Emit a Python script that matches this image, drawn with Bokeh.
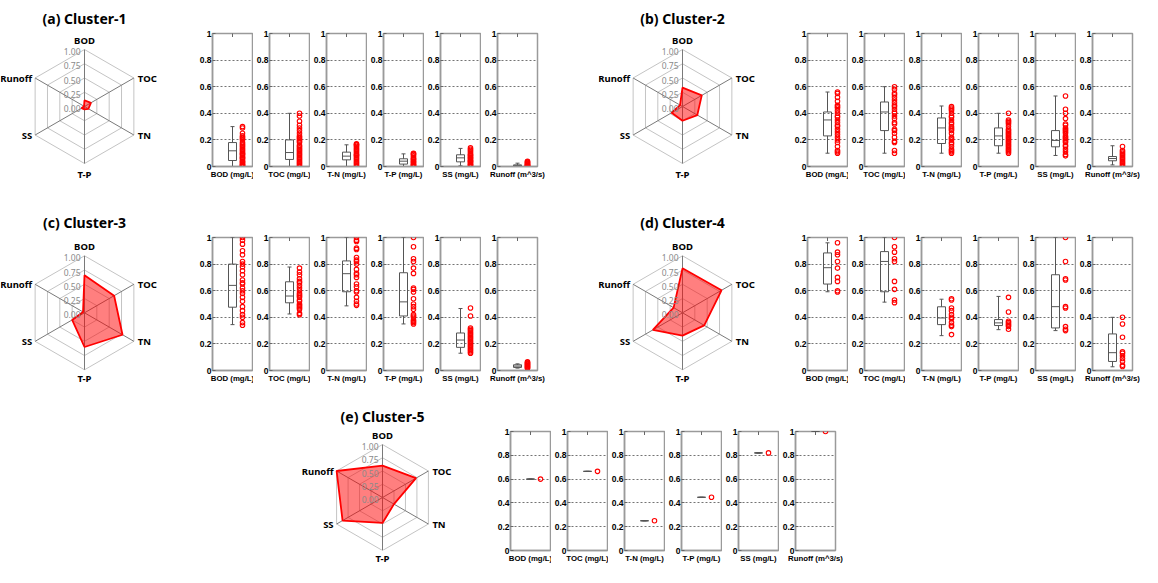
import math
from bokeh.plotting import figure
from bokeh.layouts import row, column
from bokeh.models import Spacer, Range1d, DataRange1d, FixedTicker, NumeralTickFormatter, Label, Title
from bokeh.embed import file_html
from bokeh.resources import INLINE

# ---------------- data ----------------
AXES = ["BOD", "TOC", "TN", "T-P", "SS", "Runoff"]
XLABELS = ["BOD (mg/L)", "TOC (mg/L)", "T-N (mg/L)", "T-P (mg/L)", "SS (mg/L)", "Runoff (m^3/s)"]
TITLES = ["(a) Cluster-1", "(b) Cluster-2", "(c) Cluster-3", "(d) Cluster-4", "(e) Cluster-5"]
RING_LEVELS = [0.25, 0.5, 0.75, 1.0]
RING_TICKS = [0.0, 0.25, 0.5, 0.75, 1.0]
RING_LABELS = ["0.00", "0.25", "0.50", "0.75", "1.00"]
YTICKS = [0, 0.2, 0.4, 0.6, 0.8, 1]
YGRID = [0.2, 0.4, 0.6, 0.8]

# radar (normalised) values: BOD, TOC, TN, T-P, SS, Runoff
c1_radar = [0.11, 0.13, 0.08, 0.05, 0.06, 0.01]
c2_radar = [0.33, 0.39, 0.30, 0.25, 0.22, 0.05]
c3_radar = [0.66, 0.60, 0.77, 0.60, 0.25, 0.03]
c4_radar = [0.78, 0.79, 0.44, 0.40, 0.60, 0.18]
c5_radar = [0.60, 0.73, 0.25, 0.48, 0.87, 1.00]

# box statistics per variable (BOD, TOC, T-N, T-P, SS, Runoff)
c1_min = [0.0, 0.0, 0.0, 0.0, 0.005, 0.0]
c1_q1 = [0.045, 0.053, 0.05, 0.018, 0.035, 0.004]
c1_med = [0.118, 0.105, 0.078, 0.04, 0.065, 0.008]
c1_q3 = [0.18, 0.20, 0.108, 0.058, 0.088, 0.012]
c1_max = [0.30, 0.40, 0.163, 0.095, 0.136, 0.025]

c2_min = [0.10, 0.10, 0.10, 0.10, 0.083, 0.012]
c2_q1 = [0.23, 0.27, 0.173, 0.156, 0.148, 0.043]
c2_med = [0.35, 0.41, 0.29, 0.23, 0.196, 0.06]
c2_q3 = [0.41, 0.485, 0.365, 0.29, 0.27, 0.075]
c2_max = [0.56, 0.60, 0.455, 0.40, 0.53, 0.156]

c3_min = [0.345, 0.425, 0.486, 0.35, 0.13, 0.018]
c3_q1 = [0.476, 0.509, 0.592, 0.41, 0.174, 0.023]
c3_med = [0.64, 0.56, 0.728, 0.516, 0.229, 0.033]
c3_q3 = [0.80, 0.667, 0.824, 0.735, 0.282, 0.043]
c3_max = [1.0, 0.778, 1.0, 1.0, 0.466, 0.05]

c4_min = [0.592, 0.514, 0.262, 0.307, 0.30, 0.028]
c4_q1 = [0.65, 0.592, 0.345, 0.338, 0.32, 0.068]
c4_med = [0.773, 0.82, 0.395, 0.358, 0.48, 0.134]
c4_q3 = [0.884, 0.894, 0.479, 0.383, 0.72, 0.275]
c4_max = [0.96, 1.0, 0.536, 0.557, 1.0, 0.40]

c5_val = [0.60, 0.665, 0.25, 0.447, 0.82, 1.0]

# data points (red circles)
c1_bod = [0.30, 0.29, 0.25, 0.23, 0.22, 0.21, 0.20, 0.18, 0.17, 0.16, 0.15, 0.14, 0.13, 0.12, 0.11, 0.10,
          0.095, 0.09, 0.08, 0.07, 0.065, 0.06, 0.05, 0.04, 0.035, 0.03, 0.02, 0.015, 0.01, 0.005, 0.0]
c1_toc = [0.40, 0.38, 0.34, 0.31, 0.29, 0.27, 0.25, 0.23, 0.22, 0.21, 0.20, 0.19, 0.18, 0.16, 0.15, 0.14,
          0.13, 0.12, 0.11, 0.10, 0.09, 0.08, 0.07, 0.06, 0.05, 0.04, 0.03, 0.02, 0.01, 0.0]
c1_tn = [0.17, 0.165, 0.16, 0.15, 0.14, 0.13, 0.12, 0.11, 0.10, 0.09, 0.085, 0.08, 0.07, 0.06, 0.05, 0.04,
         0.03, 0.02, 0.01, 0.0]
c1_tp = [0.10, 0.095, 0.09, 0.08, 0.07, 0.06, 0.055, 0.05, 0.04, 0.035, 0.03, 0.02, 0.015, 0.01, 0.005, 0.0]
c1_ss = [0.14, 0.13, 0.12, 0.11, 0.10, 0.09, 0.085, 0.08, 0.07, 0.065, 0.06, 0.05, 0.045, 0.04, 0.035, 0.03,
         0.02, 0.015, 0.01, 0.005]
c1_ro = [0.04, 0.035, 0.03, 0.025, 0.02, 0.015, 0.01, 0.008, 0.005, 0.003, 0.0]

c2_bod = [0.56, 0.55, 0.52, 0.49, 0.46, 0.45, 0.44, 0.42, 0.40, 0.38, 0.37, 0.35, 0.33, 0.31, 0.30, 0.28,
          0.26, 0.24, 0.22, 0.20, 0.18, 0.15, 0.12, 0.11, 0.10]
c2_toc = [0.60, 0.58, 0.55, 0.54, 0.52, 0.50, 0.48, 0.46, 0.45, 0.43, 0.41, 0.40, 0.38, 0.36, 0.33, 0.32,
          0.28, 0.27, 0.25, 0.22, 0.19, 0.18, 0.12, 0.10]
c2_tn = [0.45, 0.44, 0.43, 0.42, 0.40, 0.38, 0.37, 0.35, 0.33, 0.32, 0.30, 0.29, 0.28, 0.27, 0.25, 0.22,
         0.21, 0.20, 0.18, 0.17, 0.15, 0.13, 0.12, 0.11, 0.10]
c2_tp = [0.40, 0.35, 0.34, 0.33, 0.32, 0.30, 0.28, 0.27, 0.26, 0.25, 0.24, 0.23, 0.22, 0.21, 0.20, 0.19,
         0.18, 0.17, 0.16, 0.15, 0.14, 0.13, 0.12, 0.11, 0.10]
c2_ss = [0.53, 0.43, 0.40, 0.36, 0.32, 0.31, 0.29, 0.28, 0.27, 0.26, 0.25, 0.23, 0.22, 0.21, 0.20, 0.19,
         0.18, 0.16, 0.15, 0.13, 0.11, 0.09, 0.08]
c2_ro = [0.15, 0.12, 0.11, 0.10, 0.09, 0.08, 0.07, 0.06, 0.05, 0.04, 0.03, 0.02, 0.01, 0.0]

c3_bod = [1.0, 0.98, 0.95, 0.90, 0.87, 0.82, 0.80, 0.78, 0.75, 0.72, 0.68, 0.66, 0.65, 0.62, 0.60, 0.58,
          0.55, 0.52, 0.48, 0.45, 0.42, 0.40, 0.36, 0.34]
c3_toc = [0.77, 0.74, 0.72, 0.69, 0.67, 0.66, 0.64, 0.62, 0.60, 0.58, 0.57, 0.56, 0.55, 0.53, 0.52, 0.50,
          0.49, 0.48, 0.47, 0.46, 0.43, 0.42]
c3_tn = [1.0, 0.98, 0.97, 0.92, 0.91, 0.85, 0.83, 0.82, 0.80, 0.76, 0.73, 0.72, 0.70, 0.65, 0.63, 0.60,
         0.59, 0.55, 0.52, 0.50, 0.49]
c3_tp = [1.0, 0.93, 0.84, 0.82, 0.77, 0.73, 0.62, 0.61, 0.59, 0.54, 0.50, 0.48, 0.46, 0.42, 0.41, 0.40,
         0.38, 0.37, 0.36, 0.35]
c3_ss = [0.47, 0.41, 0.32, 0.31, 0.30, 0.29, 0.28, 0.27, 0.26, 0.25, 0.24, 0.23, 0.22, 0.21, 0.20, 0.19,
         0.18, 0.17, 0.16, 0.15, 0.14, 0.13]
c3_ro = [0.065, 0.06, 0.055, 0.05, 0.045, 0.04, 0.035, 0.03, 0.025, 0.02, 0.015]

c4_bod = [0.96, 0.89, 0.87, 0.82, 0.77, 0.70, 0.67, 0.60, 0.59]
c4_toc = [1.0, 0.93, 0.89, 0.84, 0.82, 0.67, 0.61, 0.53, 0.51]
c4_tn = [0.54, 0.53, 0.47, 0.45, 0.42, 0.40, 0.39, 0.36, 0.34, 0.33, 0.27]
c4_tp = [0.55, 0.44, 0.37, 0.36, 0.35, 0.34, 0.33, 0.31]
c4_ss = [1.0, 0.82, 0.69, 0.68, 0.48, 0.47, 0.33, 0.31, 0.30]
c4_ro = [0.40, 0.35, 0.25, 0.14, 0.13, 0.11, 0.09, 0.07, 0.04, 0.03]

# ---------------- styling / helpers ----------------
RED = "#ff0000"
ANG = [math.radians(90 - 60 * i) for i in range(6)]
S = 57.0      # px per radar unit
RW = 168      # radar figure width
TXT = "Noto Sans"
AX_FONT = "Liberation Sans"
FRAME = "#9a9a9a"
BOX_X = 1.0
PTS_X = 1.5
MB = 14


def radar_fig(title, vals, H, shift):
    # ranges are fitted with a 1:1 aspect; "shift" moves the centre below the frame middle
    p = figure(width=RW, height=H, x_range=DataRange1d(range_padding=0),
               y_range=DataRange1d(range_padding=0), match_aspect=True, output_backend="svg",
               title=None, toolbar_location=None, min_border_left=0, min_border_right=0,
               min_border_top=MB, min_border_bottom=MB, y_axis_type=None)
    p.add_layout(Title(text=title, align="center", text_font=TXT, text_font_style="bold",
                       text_font_size="14px", text_color="black", standoff=12), "above")
    p.grid.visible = False
    p.outline_line_color = None
    xa = p.xaxis[0]
    xa.ticker = FixedTicker(ticks=[])
    xa.axis_line_color = None
    xa.major_tick_out = 0
    xa.major_tick_in = 0
    xa.major_label_standoff = 0
    xa.major_label_text_font_size = "1px"
    xa.axis_label = AXES[3]
    xa.axis_label_standoff = 1
    xa.axis_label_text_font = TXT
    xa.axis_label_text_font_style = "bold"
    xa.axis_label_text_font_size = "9.5px"
    xa.axis_label_text_color = "black"
    half = RW / 2 / S
    # invisible extent: sets the horizontal scale (S px per unit) and the vertical centre
    p.scatter(x=[-half, half], y=[-1, 1 + 2 * shift / S], size=1, alpha=0)
    closed = ANG + [ANG[0]]
    p.multi_line([[lv * math.cos(a) for a in closed] for lv in RING_LEVELS],
                 [[lv * math.sin(a) for a in closed] for lv in RING_LEVELS],
                 line_color="#c4c4c4", line_width=1)
    p.segment(x0=[0] * 6, y0=[0] * 6, x1=[math.cos(a) for a in ANG], y1=[math.sin(a) for a in ANG],
              line_color="#7a7a7a", line_width=1)
    p.patch([v * math.cos(a) for v, a in zip(vals, ANG)], [v * math.sin(a) for v, a in zip(vals, ANG)],
            fill_color=RED, fill_alpha=0.5, line_color=RED, line_width=1.8)
    for lv, lab in zip(RING_TICKS, RING_LABELS):
        p.add_layout(Label(x=0, y=lv, text=lab, x_offset=-4, y_offset=-2, text_align="right",
                           text_baseline="middle", text_font=TXT, text_font_size="8.5px",
                           text_color="#8a8a8a"))
    offs = [(0, 9, "center"), (4, 0, "left"), (4, 0, "left"), None,
            (-3, 0, "right"), (-3, 0, "right")]
    for name, a, o in zip(AXES, ANG, offs):
        if o is None:
            continue
        dx, dy, al = o
        p.add_layout(Label(x=math.cos(a), y=math.sin(a), text=name, x_offset=dx, y_offset=dy,
                           text_align=al, text_baseline="middle", text_font=TXT,
                           text_font_style="bold", text_font_size="9.5px", text_color="black"))
    return p


def box_fig(mn, q1, md, q3, mx, pts, xlabel, H, last=False):
    rb = 8 if last else 1
    p = figure(width=56 + rb, height=H, x_range=Range1d(0, 2), y_range=Range1d(0, 1),
               output_backend="svg", toolbar_location=None, title=None, min_border_left=14,
               min_border_right=rb, min_border_top=MB, min_border_bottom=MB)
    p.outline_line_color = FRAME
    p.outline_line_width = 1.5
    p.xgrid.visible = False
    p.ygrid.ticker = FixedTicker(ticks=YGRID)
    p.ygrid.grid_line_color = "#505050"
    p.ygrid.grid_line_dash = "2 2"
    p.ygrid.grid_line_width = 0.8
    xa = p.xaxis[0]
    xa.ticker = FixedTicker(ticks=[])
    xa.axis_label = xlabel
    xa.axis_label_text_font = AX_FONT
    xa.axis_label_text_font_style = "bold"
    xa.axis_label_text_font_size = "7.8px"
    xa.axis_label_text_color = "black"
    xa.axis_label_standoff = 3
    xa.major_tick_out = 0
    xa.major_tick_in = 0
    xa.major_label_standoff = 0
    xa.major_label_text_font_size = "1px"
    xa.axis_line_color = FRAME
    xa.axis_line_width = 1.5
    ya = p.yaxis[0]
    ya.ticker = FixedTicker(ticks=YTICKS)
    ya.formatter = NumeralTickFormatter(format="0.[0]")
    ya.major_label_text_font = AX_FONT
    ya.major_label_text_font_style = "bold"
    ya.major_label_text_font_size = "8.5px"
    ya.major_label_text_color = "black"
    ya.major_label_standoff = 1
    ya.major_tick_out = 0
    ya.major_tick_in = 3
    ya.major_tick_line_color = "#666666"
    ya.minor_tick_line_color = None
    ya.axis_line_color = FRAME
    ya.axis_line_width = 1.5
    # top tick mark at the group position (half of a dash clipped by the frame)
    p.scatter(x=[BOX_X], y=[1], marker="dash", angle=math.pi / 2, size=7,
              line_color="#666666", line_width=1)
    # whiskers and caps
    p.segment(x0=[BOX_X, BOX_X], y0=[q3, q1], x1=[BOX_X, BOX_X], y1=[mx, mn],
              line_color="#555555", line_width=1)
    p.segment(x0=[BOX_X - 0.1] * 2, y0=[mx, mn], x1=[BOX_X + 0.1] * 2, y1=[mx, mn],
              line_color="#555555", line_width=1)
    # box + median
    p.quad(left=[BOX_X - 0.2], right=[BOX_X + 0.2], bottom=[q1], top=[q3], fill_color=None,
           line_color="#555555", line_width=1)
    p.segment(x0=[BOX_X - 0.2], y0=[md], x1=[BOX_X + 0.2], y1=[md], line_color="#555555", line_width=1)
    # data points
    p.scatter(x=[PTS_X] * len(pts), y=pts, marker="circle", size=4.5, fill_color=None,
              line_color=RED, line_width=1.1)
    return p


def box_group(mins, q1s, meds, q3s, maxs, pts_list, H):
    return [box_fig(mins[i], q1s[i], meds[i], q3s[i], maxs[i], pts_list[i], XLABELS[i], H,
                    last=(i == 5)) for i in range(6)]


H1 = H2 = 183
H3 = 169

r_a = radar_fig(TITLES[0], c1_radar, H1, 6.5)
r_b = radar_fig(TITLES[1], c2_radar, H1, 6.5)
r_c = radar_fig(TITLES[2], c3_radar, H2, 8.8)
r_d = radar_fig(TITLES[3], c4_radar, H2, 8.8)
r_e = radar_fig(TITLES[4], c5_radar, H3, 7.0)

b1 = box_group(c1_min, c1_q1, c1_med, c1_q3, c1_max, [c1_bod, c1_toc, c1_tn, c1_tp, c1_ss, c1_ro], H1)
b2 = box_group(c2_min, c2_q1, c2_med, c2_q3, c2_max, [c2_bod, c2_toc, c2_tn, c2_tp, c2_ss, c2_ro], H1)
b3 = box_group(c3_min, c3_q1, c3_med, c3_q3, c3_max, [c3_bod, c3_toc, c3_tn, c3_tp, c3_ss, c3_ro], H2)
b4 = box_group(c4_min, c4_q1, c4_med, c4_q3, c4_max, [c4_bod, c4_toc, c4_tn, c4_tp, c4_ss, c4_ro], H2)
b5 = box_group(c5_val, c5_val, c5_val, c5_val, c5_val, [[v] for v in c5_val], H3)

row1 = row(r_a, Spacer(width=28, height=H1), *b1, Spacer(width=53, height=H1), r_b,
           Spacer(width=25, height=H1), *b2)
row2 = row(r_c, Spacer(width=28, height=H2), *b3, Spacer(width=53, height=H2), r_d,
           Spacer(width=25, height=H2), *b4)
row3 = row(Spacer(width=298, height=H3), r_e, Spacer(width=28, height=H3), *b5)

layout = column(row1, Spacer(height=21, width=10), row2, Spacer(height=11, width=10), row3)

open("out.html", "w").write(file_html(layout, INLINE))
